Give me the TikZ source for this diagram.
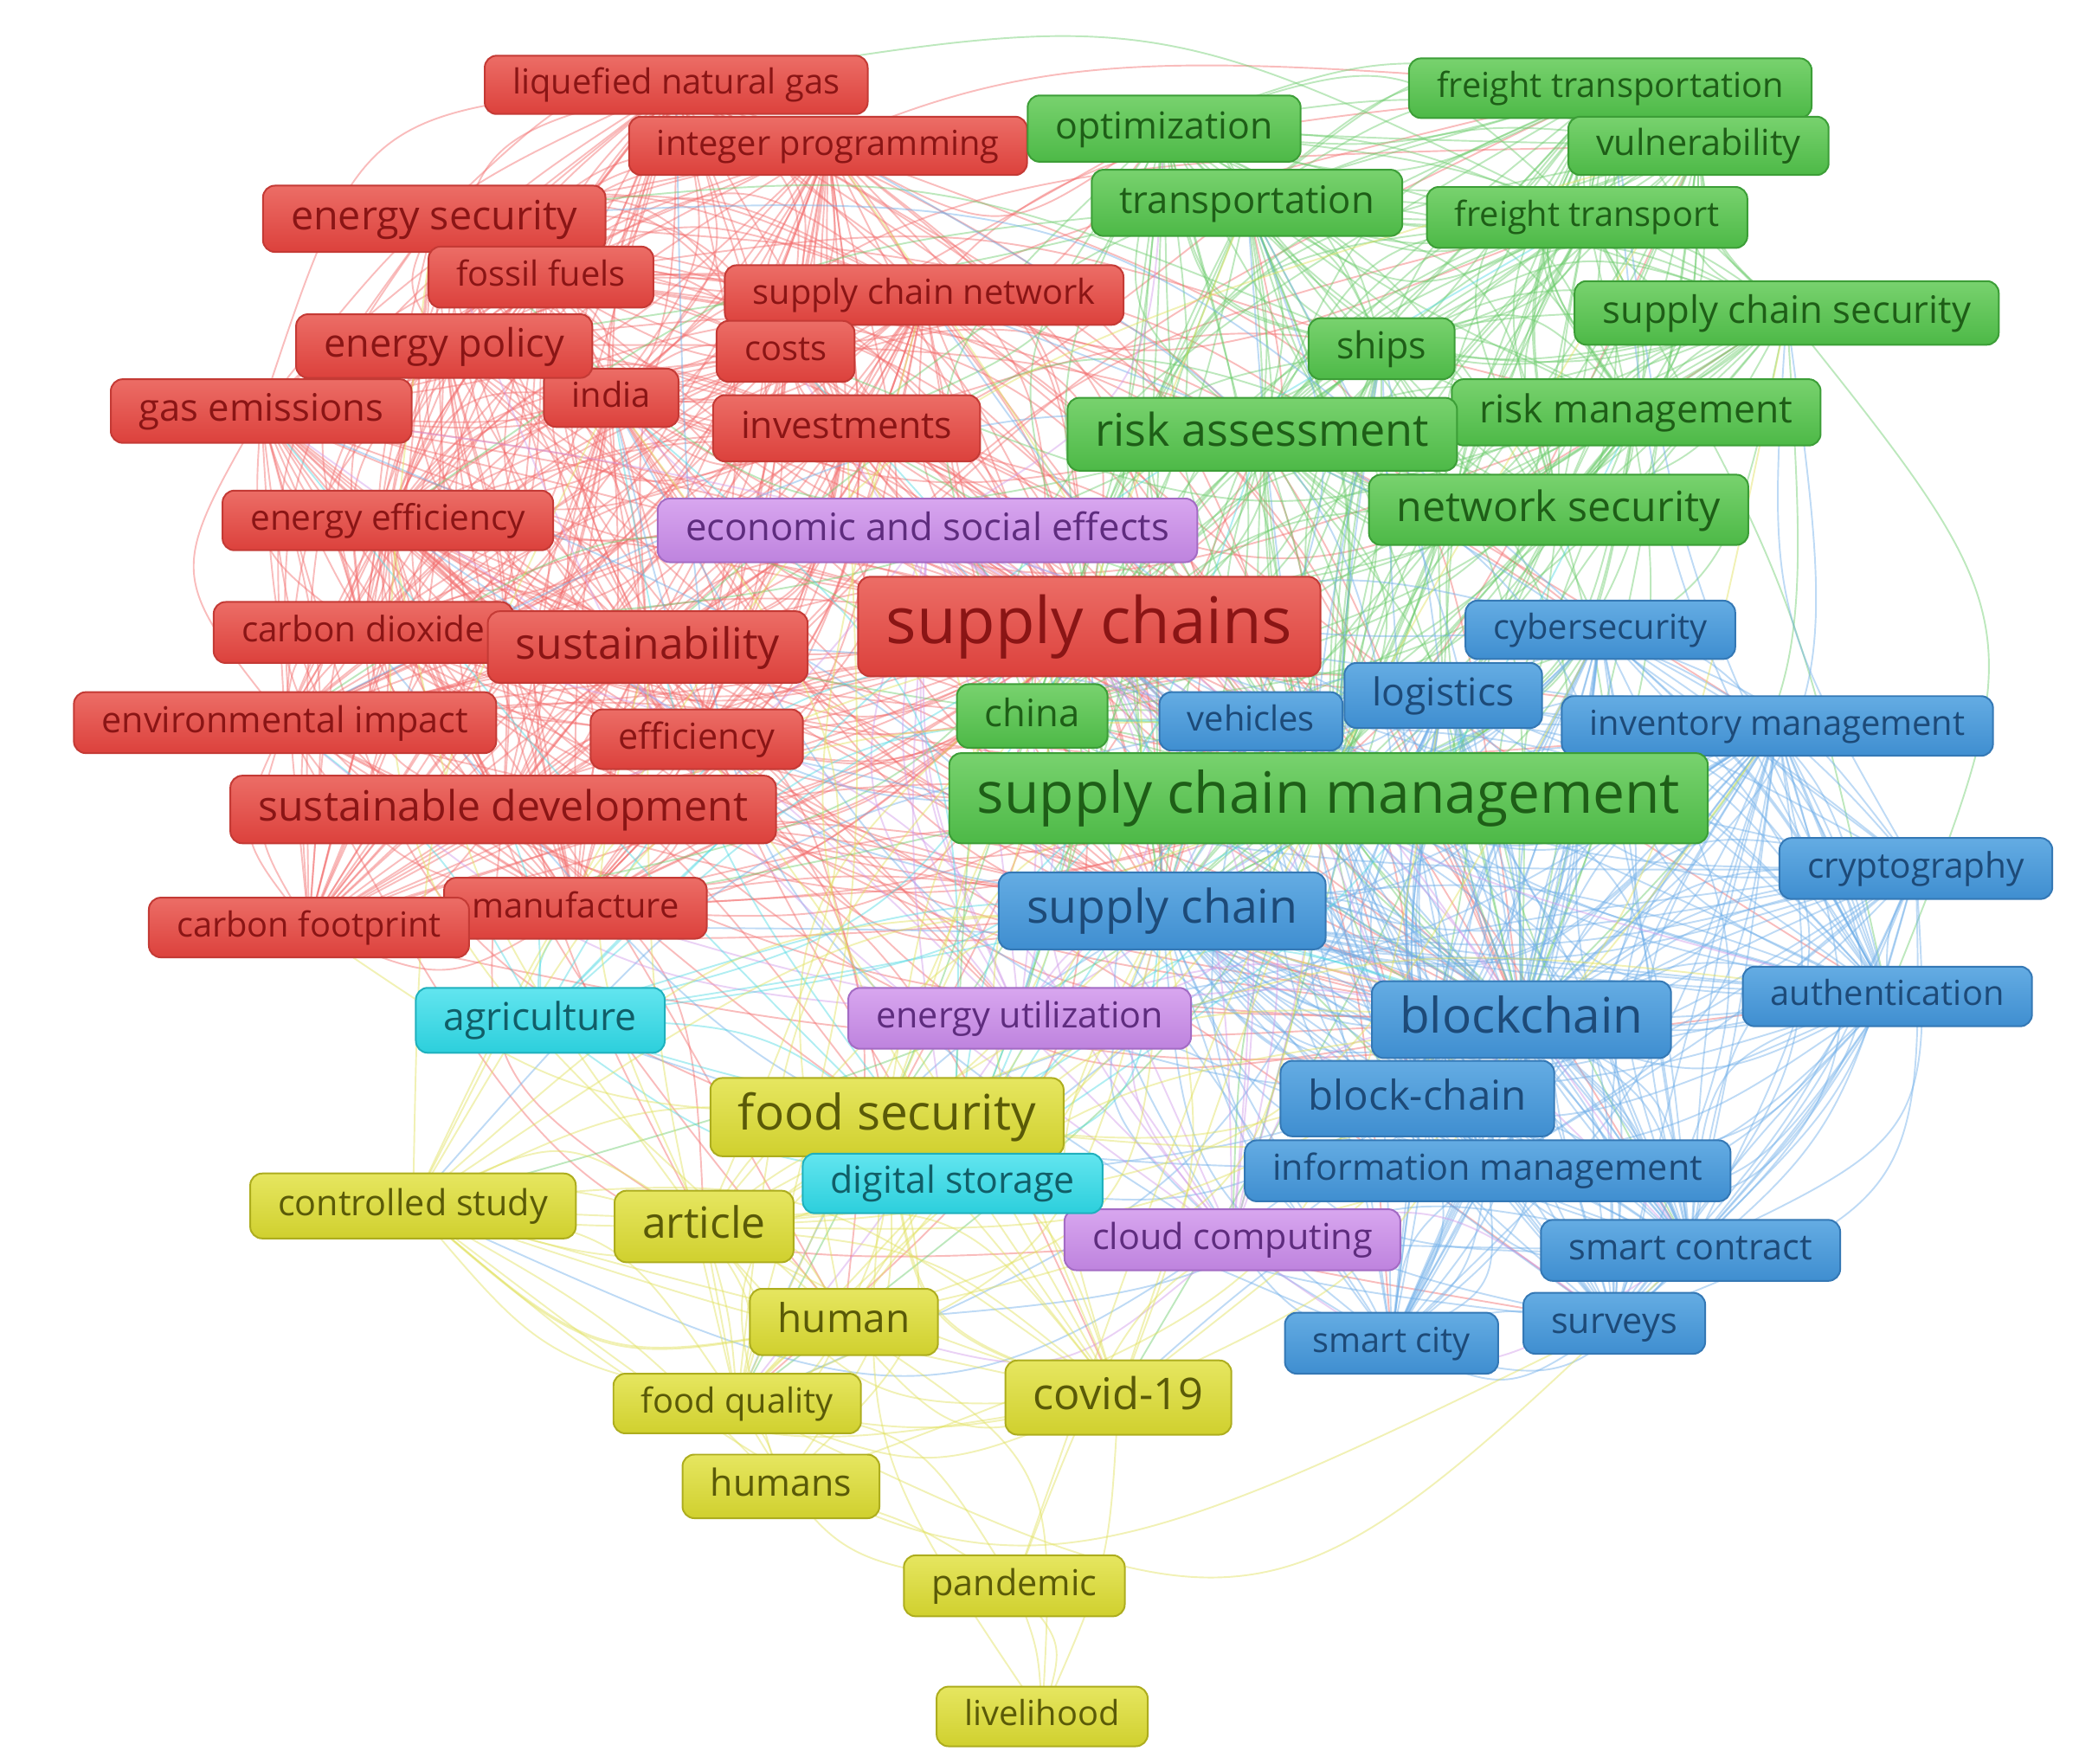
\documentclass[tikz,border=0pt]{standalone}
\usepackage{fontspec}
\setmainfont{Open Sans}
\usetikzlibrary{backgrounds,calc}
\definecolor{rT}{HTML}{EC6D66}\definecolor{rB}{HTML}{DC413C}\definecolor{rD}{HTML}{C43A35}\definecolor{rX}{HTML}{8A1515}\definecolor{rE}{HTML}{F26B6B}
\definecolor{gT}{HTML}{78D26E}\definecolor{gB}{HTML}{4DB947}\definecolor{gD}{HTML}{3C9E37}\definecolor{gX}{HTML}{1E5E17}\definecolor{gE}{HTML}{6CCB6C}
\definecolor{bT}{HTML}{64ACE3}\definecolor{bB}{HTML}{3F8ED0}\definecolor{bD}{HTML}{3478B5}\definecolor{bX}{HTML}{1D4A78}\definecolor{bE}{HTML}{6FAEE8}
\definecolor{pT}{HTML}{D8A6EF}\definecolor{pB}{HTML}{BE83DE}\definecolor{pD}{HTML}{A36BC4}\definecolor{pX}{HTML}{5E2C7E}\definecolor{pE}{HTML}{D09AE8}
\definecolor{cT}{HTML}{62E5EF}\definecolor{cB}{HTML}{2CCFDC}\definecolor{cD}{HTML}{1FB0BD}\definecolor{cX}{HTML}{115E68}\definecolor{cE}{HTML}{4FD9E3}
\definecolor{yT}{HTML}{E6E660}\definecolor{yB}{HTML}{D0D02E}\definecolor{yD}{HTML}{ADAD1E}\definecolor{yX}{HTML}{5A5A08}\definecolor{yE}{HTML}{E0E05A}
\tikzset{
  kw/.style={rounded corners=9pt, line width=1.3pt, inner xsep=21pt, inner ysep=0pt, anchor=center},
  kR/.style={kw, draw=rD, top color=rT, bottom color=rB, text=rX},
  kG/.style={kw, draw=gD, top color=gT, bottom color=gB, text=gX},
  kB/.style={kw, draw=bD, top color=bT, bottom color=bB, text=bX},
  kP/.style={kw, draw=pD, top color=pT, bottom color=pB, text=pX},
  kC/.style={kw, draw=cD, top color=cT, bottom color=cB, text=cX},
  kY/.style={kw, draw=yD, top color=yT, bottom color=yB, text=yX},
  lnkline/.style={line width=1.25pt, draw opacity=0.45},
}
\newcommand\kwnode[7]{%
  \pgfmathsetmacro{\kwth}{0.78*#4}\pgfmathsetmacro{\kwtd}{0.24*#4}%
  \node[#6, font=\fontsize{#4}{#4}\selectfont, minimum height=#5pt,
        text height=\kwth pt, text depth=\kwtd pt] (#1) at (#2,#3) {#7};}
\newcommand\lnk[3]{%
  \pgfmathsetmacro{\ff}{rnd*0.7-0.35}%
  \draw[lnkline,#3] let \p1=(n#1.center), \p2=(n#2.center) in
    (\p1) .. controls ({0.5*\x1+0.5*\x2-\ff*(\y2-\y1)},{0.5*\y1+0.5*\y2+\ff*(\x2-\x1)}) .. (\p2);}
\begin{document}
\begin{tikzpicture}[x=1pt,y=-1pt]
\useasboundingbox (0,0) rectangle (1568,1330);
% red cluster
\kwnode{n1}{510}{64}{26}{44}{kR}{liquefied natural gas}
\kwnode{n2}{624.5}{110}{26}{44}{kR}{integer programming}
\kwnode{n3}{327.5}{165}{30.5}{50}{kR}{energy security}
\kwnode{n4}{408}{209}{26}{46}{kR}{fossil fuels}
\kwnode{n5}{697}{222.5}{26}{45}{kR}{supply chain network}
\kwnode{n7}{592.5}{265}{26}{46}{kR}{costs}
\kwnode{n8}{461}{300}{26}{44}{kR}{india}
\kwnode{n6}{335}{261}{29.5}{48}{kR}{energy policy}
\kwnode{n9}{197}{310}{28.5}{48}{kR}{gas emissions}
\kwnode{n10}{638.5}{323}{28}{50}{kR}{investments}
\kwnode{n11}{292.5}{392.5}{26.5}{45}{kR}{energy efficiency}
\kwnode{n12}{274}{477}{26.5}{46}{kR}{carbon dioxide}
\kwnode{n13}{488.5}{488}{32.5}{54}{kR}{sustainability}
\kwnode{n15}{215}{545}{27}{46}{kR}{environmental impact}
\kwnode{n16}{525.5}{557.5}{27}{45}{kR}{efficiency}
\kwnode{n17}{379.5}{610.5}{31.5}{51}{kR}{sustainable development}
\kwnode{n18}{434}{685}{26}{46}{kR}{manufacture}
\kwnode{n19}{233}{699.5}{26}{45}{kR}{carbon footprint}
% green cluster
\kwnode{n21}{1214.5}{66.5}{26}{45}{kG}{freight transportation}
\kwnode{n22}{1281}{110}{27}{44}{kG}{vulnerability}
\kwnode{n20}{878}{97}{28}{50}{kG}{optimization}
\kwnode{n23}{940.5}{153}{28.5}{50}{kG}{transportation}
\kwnode{n24}{1197}{164}{26}{46}{kG}{freight transport}
\kwnode{n25}{1347.5}{236}{28.5}{48}{kG}{supply chain security}
\kwnode{n26}{1042}{263}{28}{46}{kG}{ships}
\kwnode{n27}{1234}{311}{29}{50}{kG}{risk management}
\kwnode{n28}{952}{327.5}{34}{55}{kG}{risk assessment}
\kwnode{n29}{1175.5}{384.5}{31.5}{53}{kG}{network security}
\kwnode{n30}{778.5}{540}{28.5}{48}{kG}{china}
% purple
\kwnode{n45}{699.5}{400}{28.5}{48}{kP}{economic and social effects}
\kwnode{n46}{769}{768}{27}{46}{kP}{energy utilization}
\kwnode{n47}{929.5}{935}{27}{46}{kP}{cloud computing}
% blue cluster
\kwnode{n32}{1207}{475}{26}{44}{kB}{cybersecurity}
\kwnode{n34}{943.5}{544}{26}{44}{kB}{vehicles}
\kwnode{n33}{1088.5}{524.5}{29}{49}{kB}{logistics}
\kwnode{n35}{1340.5}{547.5}{26}{45}{kB}{inventory management}
\kwnode{n36}{876.5}{687}{35}{58}{kB}{supply chain}
\kwnode{n37}{1445}{655}{26.5}{46}{kB}{cryptography}
\kwnode{n38}{1423.5}{751.5}{26}{45}{kB}{authentication}
\kwnode{n39}{1147.5}{769}{37}{58}{kB}{blockchain}
\kwnode{n40}{1069}{828.5}{31}{57}{kB}{block-chain}
\kwnode{n41}{1122}{883}{27}{46}{kB}{information management}
\kwnode{n42}{1275}{943}{27}{46}{kB}{smart contract}
\kwnode{n43}{1217.5}{998}{27}{46}{kB}{surveys}
\kwnode{n44}{1049.5}{1013}{26}{46}{kB}{smart city}
% cyan
\kwnode{n48}{407.5}{769.5}{29}{49}{kC}{agriculture}
% yellow
\kwnode{n50}{669}{842.5}{37}{59}{kY}{food security}
\kwnode{n49}{718.5}{892.5}{28}{45}{kC}{digital storage}
\kwnode{n51}{311.5}{909.5}{27}{49}{kY}{controlled study}
\kwnode{n52}{531}{925}{32.5}{54}{kY}{article}
\kwnode{n53}{636.5}{997}{30}{50}{kY}{human}
\kwnode{n54}{556}{1058.5}{26}{45}{kY}{food quality}
\kwnode{n55}{843.5}{1054}{33}{56}{kY}{covid-19}
\kwnode{n56}{589}{1121}{28}{48}{kY}{humans}
\kwnode{n57}{765}{1196}{27}{46}{kY}{pandemic}
\kwnode{n58}{786}{1294.5}{26}{45}{kY}{livelihood}
% the largest ones on top
\kwnode{n14}{821.5}{472.5}{48.5}{75}{kR}{supply chains}
\kwnode{n31}{1002}{602}{43}{68}{kG}{supply chain management}
% connectors
\begin{scope}[on background layer]
\pgfmathsetseed{12}
\foreach \lo/\hi/\col/\cnt/\crs/\hb/\ilo/\ihi in {
   1/19/rE/14/5/1/1/19, 20/31/gE/13/5/1/20/31, 32/44/bE/13/5/1/32/44,
   45/47/pE/3/8/1/45/47, 48/49/cE/2/8/1/48/49,
   50/55/yE/7/4/1/50/50, 50/55/yE/7/4/1/51/55,
   50/57/yE/5/1/0/56/56, 53/57/yE/3/2/0/57/57}{
  \foreach \i in {\ilo,...,\ihi}{
    \foreach \k in {1,...,\cnt}{
      \pgfmathrandominteger{\tgt}{\lo}{\hi}
      \ifnum\tgt=\i\relax\else \lnk{\i}{\tgt}{\col}\fi
    }
    \ifnum\crs>0
    \foreach \k in {1,...,\crs}{
      \pgfmathrandominteger{\tgt}{1}{55}
      \ifnum\tgt=\i\relax\else \lnk{\i}{\tgt}{\col}\fi
    }
    \fi
    \ifnum\hb=1
    \foreach \h in {14,31,36,39}{
      \ifnum\h=\i\relax\else \lnk{\i}{\h}{\col}\fi
    }
    \fi
  }
}
\foreach \tgt in {57,57,55,53,50}{\lnk{58}{\tgt}{yE}}
\end{scope}
\end{tikzpicture}
\end{document}
